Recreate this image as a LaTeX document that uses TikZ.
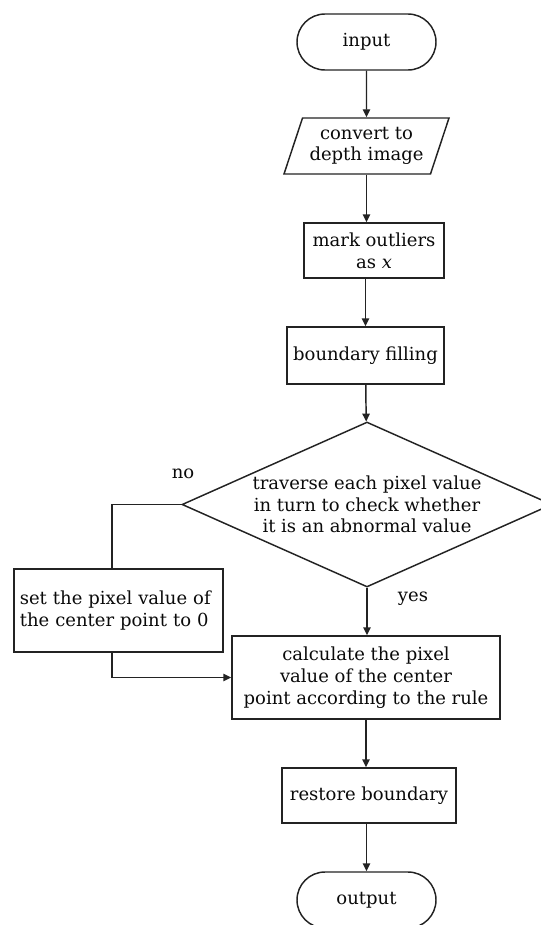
\documentclass[tikz,border=0pt]{standalone}
\usepackage{fontspec}
\setmainfont{DejaVu Serif}
\usetikzlibrary{arrows.meta,shapes.geometric,shapes.misc}

\tikzset{every picture/.style={line width=1.1pt}}
\tikzset{
	flowline/.style={draw={rgb, 255:red, 35; green, 35; blue, 35 }},
	flowarrow/.style={flowline, -{Triangle[length=6pt,width=5.5pt]}},
	flowtext/.style={font=\fontsize{13.5}{16.3}\selectfont, text={rgb, 255:red, 10; green, 10; blue, 10 }},
	terminal/.style={flowline, flowtext, rounded rectangle, rounded rectangle arc length=180, inner sep=0pt, minimum width=104.25pt, minimum height=42pt},
	iobox/.style={flowline, flowtext, trapezium, trapezium left angle=64, trapezium right angle=116, trapezium stretches body, align=center, inner sep=0pt},
	procbox/.style={flowline, flowtext, rectangle, align=center, inner sep=2pt},
	decision/.style={flowline, flowtext, diamond, aspect=2.24, align=center, inner sep=0pt}
}

\begin{document}
\begin{tikzpicture}[x=0.75pt,y=0.75pt,yscale=-1,xscale=1]
	\useasboundingbox (0,0) rectangle (540,925);
	
	%Flowchart: Terminator
	\node [terminal] (input) at (366.5,42) {input};
	%Flowchart: Data
	\node [iobox, minimum width=123.75pt, minimum height=42pt] (convert) at (366.5,146) {convert to\\depth image};
	%Shape: Rectangle
	\node [procbox, minimum width=105pt, minimum height=41.25pt] (mark) at (374,250.5) {mark outliers\\as \textit{x}};
	%Shape: Rectangle
	\node [procbox, minimum width=117.75pt, minimum height=42.75pt] (fill) at (365.5,355.5) {boundary filling};
	%Flowchart: Decision
	\node [decision, minimum width=277.5pt, minimum height=123.75pt] (check) at (367,504.5) {traverse each pixel value\\in turn to check whether\\it is an abnormal value};
	%Shape: Rectangle
	\node [procbox, align=left, text width=148pt, minimum width=156.75pt, minimum height=62.25pt] (setzero) at (118.5,610.5) {set the pixel value of\\the center point to 0};
	%Shape: Rectangle
	\node [procbox, minimum width=201pt, minimum height=62.25pt] (calc) at (366,677.5) {calculate the pixel\\value of the center\\point according to the rule};
	%Shape: Rectangle
	\node [procbox, minimum width=130.5pt, minimum height=41.25pt] (restore) at (369,795.5) {restore boundary};
	%Flowchart: Terminator
	\node [terminal] (output) at (366.5,900) {output};
	
	%Straight Lines
	\draw [flowarrow] (input) -- (convert);
	\draw [flowarrow] (convert.south) -- (convert.south |- mark.north);
	\draw [flowarrow] (mark.south -| fill.north) -- (fill.north);
	\draw [flowarrow] (fill) -- (check);
	\draw [flowarrow] (check.south) -- (check.south |- calc.north);
	%Straight Lines
	\coordinate (noturn) at (112,504.5);
	\draw [flowline] (check.west) -- (check.west -| noturn) -- (noturn |- setzero.north);
	\draw [flowarrow] (noturn |- setzero.south) |- (calc.west);
	%Straight Lines
	\draw [flowarrow] (calc.south) -- (calc.south |- restore.north);
	\draw [flowarrow] (restore.south -| output.north) -- (output.north);
	
	% Text Node
	\node [flowtext] (nolabel) at (183,474) {no};
	% Text Node
	\node [flowtext] (yeslabel) at (413,599) {yes};
	
\end{tikzpicture}
\end{document}
